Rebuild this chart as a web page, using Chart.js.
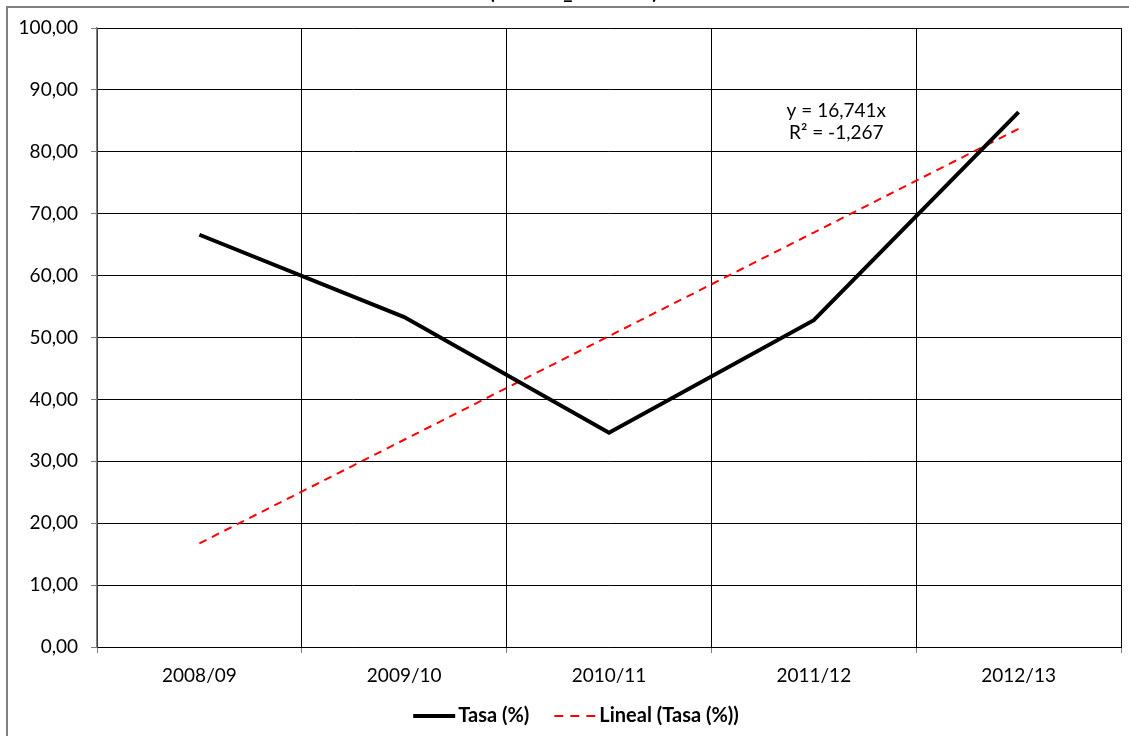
<!DOCTYPE html>
<html>
<head>
<meta charset="utf-8">
<script src="https://cdn.jsdelivr.net/npm/chart.js@4"></script>
<style>
  html, body { margin: 0; padding: 0; background: #ffffff; }
  #wrap { width: 1129px; height: 736px; position: relative; }
</style>
</head>
<body>
<div id="wrap"><canvas id="c" width="1129" height="736"></canvas></div>
<script>
const categories = ['2008/09', '2009/10', '2010/11', '2011/12', '2012/13'];
const tasa = [66.6, 53.3, 34.6, 52.8, 86.4];
const lineal = [16.74, 33.48, 50.22, 66.96, 83.71];
const seriesNames = ['Tasa (%)', 'Lineal (Tasa (%))'];
const yMin = 0, yMax = 100, yStep = 10;
const trendText = ['y = 16,741x', 'R² = -1,267'];
const titleParts = ['(', '_', ')'];

const FONT = 'Lato, "Open Sans", sans-serif';

const framePlugin = {
  id: 'frame',
  beforeDraw(chart) {
    const ctx = chart.ctx;
    ctx.save();
    ctx.fillStyle = '#ffffff';
    ctx.fillRect(0, 0, chart.width, chart.height);
    ctx.strokeStyle = '#808080';
    ctx.lineWidth = 2;
    ctx.beginPath();
    ctx.moveTo(7, chart.height + 2);
    ctx.lineTo(7, 7);
    ctx.lineTo(chart.width + 2, 7);
    ctx.stroke();
    // title remnants (cut off at top edge)
    ctx.fillStyle = '#000000';
    ctx.font = 'bold 20px ' + FONT;
    ctx.textAlign = 'center';
    ctx.textBaseline = 'alphabetic';
    const xs = [492, 568, 655];
    titleParts.forEach((t, i) => ctx.fillText(t, xs[i], -1));
    ctx.restore();
  },
  afterDraw(chart) {
    const ctx = chart.ctx;
    const xs = chart.scales.x, ys = chart.scales.y;
    ctx.save();
    // trendline equation
    ctx.fillStyle = '#000000';
    ctx.font = '19px ' + FONT;
    ctx.textAlign = 'center';
    ctx.textBaseline = 'middle';
    const ax = xs.getPixelForValue(3) + 0.11 * (xs.getPixelForValue(4) - xs.getPixelForValue(3));
    ctx.fillText(trendText[0], ax, ys.getPixelForValue(86.6));
    ctx.fillText(trendText[1], ax, ys.getPixelForValue(83.0));

    // legend
    const ds = chart.data.datasets;
    ctx.font = 'bold 20px ' + FONT;
    ctx.textAlign = 'left';
    const lineW = 42, gapBoxText = 3, gapItems = 25;
    const w0 = ctx.measureText(ds[0].label).width;
    const w1 = ctx.measureText(ds[1].label).width;
    const total = lineW + gapBoxText + w0 + gapItems + lineW + gapBoxText + w1;
    let x = 576 - total / 2;
    const y = 716;
    ds.forEach((d, i) => {
      ctx.strokeStyle = d.borderColor;
      ctx.lineWidth = d.borderWidth;
      ctx.setLineDash(i === 1 ? [9, 7] : []);
      ctx.beginPath();
      ctx.moveTo(x, y);
      ctx.lineTo(x + lineW, y);
      ctx.stroke();
      ctx.setLineDash([]);
      x += lineW + gapBoxText;
      ctx.fillStyle = '#000000';
      ctx.fillText(d.label, x, y);
      x += (i === 0 ? w0 : w1) + gapItems;
    });
    ctx.restore();
  }
};

const fmt = v => Number(v).toFixed(2).replace('.', ',');

new Chart(document.getElementById('c'), {
  type: 'line',
  data: {
    labels: categories,
    datasets: [
      {
        label: seriesNames[0],
        data: tasa,
        borderColor: '#000000',
        borderWidth: 4,
        pointRadius: 0,
        tension: 0,
        fill: false,
        order: 1
      },
      {
        label: seriesNames[1],
        data: lineal,
        borderColor: '#ff0000',
        borderWidth: 2,
        borderDash: [8, 6],
        pointRadius: 0,
        tension: 0,
        fill: false,
        order: 2
      }
    ]
  },
  options: {
    responsive: false,
    animation: false,
    devicePixelRatio: 1,
    layout: { padding: { left: 0, top: 28, right: 8, bottom: 49 } },
    plugins: {
      legend: { display: false },
      title: { display: false },
      tooltip: { enabled: false }
    },
    scales: {
      x: {
        type: 'category',
        offset: true,
        grid: {
          offset: true,
          color: '#000000',
          lineWidth: 1,
          drawTicks: true,
          tickLength: 6,
          tickColor: '#808080'
        },
        border: { display: true, color: '#000000', width: 1 },
        ticks: {
          color: '#000000',
          font: { family: FONT, size: 19 },
          padding: 11,
          maxRotation: 0
        },
        afterFit(s) { s.height = 40; }
      },
      y: {
        min: yMin,
        max: yMax,
        grid: {
          color: '#000000',
          lineWidth: 1,
          drawTicks: true,
          tickLength: 6,
          tickColor: '#808080'
        },
        border: { display: true, color: '#808080', width: 1.5 },
        ticks: {
          stepSize: yStep,
          color: '#000000',
          font: { family: FONT, size: 19 },
          padding: 13,
          callback: v => fmt(v)
        },
        afterFit(s) { s.width = 97; }
      }
    }
  },
  plugins: [framePlugin]
});
</script>
</body>
</html>
